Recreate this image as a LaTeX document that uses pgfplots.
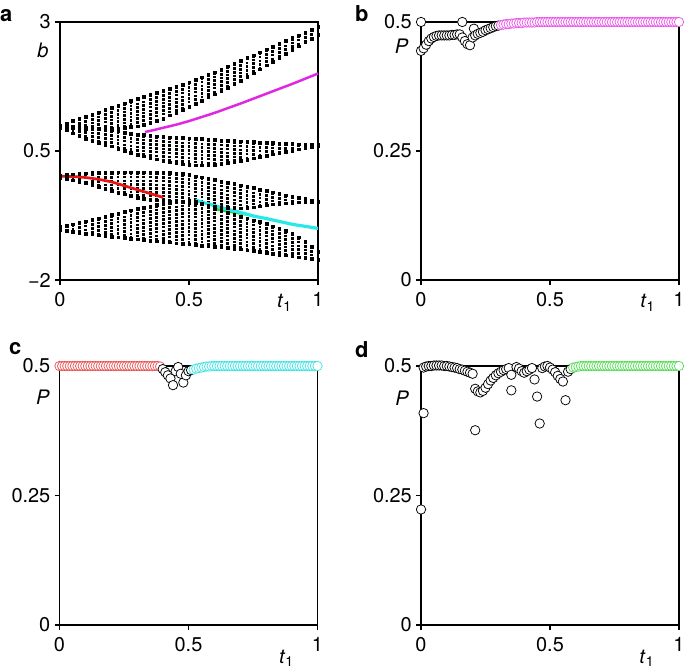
\documentclass[border=0pt]{standalone}
\usepackage{fontspec}
\setmainfont{TeX Gyre Heros}
\usepackage{pgfplots}
\usepackage{pgfplotstable}
\pgfplotsset{compat=1.18}
\definecolor{cmag}{RGB}{225,40,225}
\definecolor{cred}{RGB}{235,20,20}
\definecolor{ccyan}{RGB}{40,232,232}
\definecolor{cgreen}{RGB}{50,210,50}
\definecolor{cmagc}{RGB}{235,90,235}
\definecolor{credc}{RGB}{232,90,90}
\definecolor{ccyanc}{RGB}{70,228,228}
\definecolor{cgreenc}{RGB}{90,222,90}

% band edges (top and bottom of each group of states)
\pgfplotstableread{
t Atop Abot Btop Bbot Ctop Cbot Dtop Dbot
0.000 1.000 0.950 1.000 0.950 0.020 -0.020 -0.970 -1.020
0.025 1.040 0.945 0.990 0.900 0.035 -0.040 -0.945 -1.040
0.050 1.085 0.940 0.980 0.845 0.050 -0.065 -0.915 -1.060
0.075 1.130 0.935 0.970 0.790 0.060 -0.090 -0.890 -1.080
0.100 1.170 0.930 0.960 0.740 0.070 -0.120 -0.860 -1.100
0.125 1.210 0.930 0.945 0.700 0.075 -0.155 -0.830 -1.115
0.150 1.255 0.930 0.930 0.665 0.080 -0.195 -0.800 -1.130
0.175 1.300 0.930 0.915 0.625 0.085 -0.230 -0.770 -1.145
0.200 1.340 0.930 0.900 0.590 0.085 -0.270 -0.740 -1.160
0.225 1.380 0.940 0.880 0.550 0.090 -0.305 -0.710 -1.170
0.250 1.425 0.955 0.860 0.510 0.090 -0.340 -0.680 -1.185
0.275 1.470 0.965 0.840 0.470 0.090 -0.370 -0.650 -1.200
0.300 1.510 0.980 0.820 0.430 0.090 -0.400 -0.620 -1.210
0.325 1.550 1.015 0.810 0.400 0.090 -0.420 -0.595 -1.220
0.350 1.590 1.050 0.800 0.370 0.090 -0.440 -0.570 -1.235
0.375 1.630 1.090 0.790 0.340 0.085 -0.455 -0.545 -1.250
0.400 1.670 1.130 0.780 0.310 0.085 -0.470 -0.520 -1.260
0.425 1.710 1.190 0.770 0.285 0.075 -0.480 -0.500 -1.270
0.450 1.750 1.245 0.765 0.260 0.065 -0.490 -0.485 -1.285
0.475 1.790 1.300 0.755 0.245 0.055 -0.495 -0.470 -1.300
0.500 1.830 1.360 0.750 0.230 0.040 -0.500 -0.460 -1.310
0.525 1.880 1.420 0.740 0.225 0.015 -0.500 -0.470 -1.320
0.550 1.930 1.480 0.735 0.225 -0.010 -0.520 -0.520 -1.330
0.575 1.980 1.540 0.725 0.230 -0.035 -0.550 -0.570 -1.340
0.600 2.030 1.600 0.720 0.240 -0.060 -0.570 -0.620 -1.350
0.625 2.085 1.665 0.710 0.255 -0.085 -0.590 -0.660 -1.360
0.650 2.140 1.730 0.705 0.270 -0.110 -0.600 -0.695 -1.375
0.675 2.195 1.795 0.695 0.290 -0.135 -0.610 -0.735 -1.390
0.700 2.250 1.860 0.690 0.310 -0.160 -0.610 -0.770 -1.400
0.725 2.305 1.935 0.680 0.335 -0.190 -0.600 -0.805 -1.420
0.750 2.360 2.010 0.675 0.360 -0.215 -0.590 -0.840 -1.435
0.775 2.415 2.085 0.665 0.385 -0.245 -0.570 -0.875 -1.450
0.800 2.470 2.160 0.660 0.410 -0.270 -0.550 -0.910 -1.470
0.825 2.525 2.235 0.655 0.435 -0.300 -0.535 -0.955 -1.490
0.850 2.580 2.310 0.650 0.460 -0.325 -0.520 -1.005 -1.505
0.875 2.635 2.385 0.645 0.485 -0.355 -0.510 -1.050 -1.520
0.900 2.690 2.460 0.640 0.510 -0.380 -0.500 -1.100 -1.540
0.925 2.745 2.530 0.635 0.535 -0.405 -0.495 -1.170 -1.560
0.950 2.800 2.605 0.630 0.560 -0.430 -0.490 -1.250 -1.575
0.975 2.855 2.680 0.625 0.580 -0.455 -0.485 -1.350 -1.590
1.000 2.910 2.750 0.620 0.600 -0.480 -0.480 -1.450 -1.610
}\bands

\tikzset{lab/.style={font=\fontsize{20}{24}\selectfont}}
\pgfplotsset{
  panel/.style={
    scale only axis, width=258bp, height=258bp,
    axis line style={line width=1.1bp, black},
    every tick/.style={line width=1.1bp, black},
    major tick length=5bp,
    tick align=outside,
    tick pos=left,
    xmin=0, xmax=1,
    xtick={0,0.5,1}, xticklabels={0,0.5,1},
    every tick label/.append style={font=\fontsize{20}{24}\selectfont},
    xticklabel style={anchor=north, inner sep=0pt, yshift=-7bp},
    yticklabel style={anchor=east, inner sep=0pt, xshift=-4bp},
    clip=false,
  },
  streak/.style={draw=none, mark=none, forget plot,
    error bars/.cd, y dir=minus, y explicit, error mark=none,
    error bar style={draw=black, solid, line width=2.8bp, dash pattern=on 2.6bp off 1.1bp}},
  edge/.style={only marks, mark=square*, mark size=1.3bp, black, forget plot},
  circ/.style={only marks, mark=*, mark size=4.7bp, mark options={fill=white, draw=#1, line width=0.75bp}},
}

\begin{document}
\begin{tikzpicture}[x=1bp,y=1bp]
\useasboundingbox (0,0) rectangle (685,671);

% ---------------- panel a ----------------
\begin{axis}[panel, at={(60bp,391bp)}, anchor=south west,
  ymin=-2, ymax=3, ytick={-2,0.5,3}, yticklabels={−2,0.5,3}]
\addplot[streak] table[x=t, y=Atop, y error expr=\thisrow{Atop}-\thisrow{Abot}] {\bands};
\addplot[streak] table[x=t, y=Btop, y error expr=\thisrow{Btop}-\thisrow{Bbot}] {\bands};
\addplot[streak] table[x=t, y=Ctop, y error expr=\thisrow{Ctop}-\thisrow{Cbot}] {\bands};
\addplot[streak] table[x=t, y=Dtop, y error expr=\thisrow{Dtop}-\thisrow{Dbot}] {\bands};
\addplot[edge] table[x=t, y=Atop] {\bands};
\addplot[edge] table[x=t, y=Abot] {\bands};
\addplot[edge] table[x=t, y=Btop] {\bands};
\addplot[edge] table[x=t, y=Bbot] {\bands};
\addplot[edge] table[x=t, y=Ctop] {\bands};
\addplot[edge] table[x=t, y=Cbot] {\bands};
\addplot[edge] table[x=t, y=Dtop] {\bands};
\addplot[edge] table[x=t, y=Dbot] {\bands};
% edge states
\addplot[cmag, line width=2.5bp, smooth] coordinates {(0.33,0.87) (0.35,0.89) (0.4,0.95) (0.45,1.01) (0.5,1.08) (0.55,1.16) (0.6,1.24) (0.65,1.33) (0.7,1.42) (0.75,1.515) (0.8,1.61) (0.85,1.705) (0.9,1.80) (0.95,1.90) (1.0,2.0)};
\addplot[cred, line width=2.7bp, smooth] coordinates {(0,0.01) (0.05,0.005) (0.1,-0.015) (0.15,-0.05) (0.2,-0.10) (0.25,-0.175) (0.3,-0.25) (0.35,-0.325) (0.4,-0.40)};
\addplot[cgreen, line width=2.6bp, smooth] coordinates {(0.6,-0.62) (0.65,-0.67) (0.7,-0.71) (0.75,-0.755)};
\addplot[ccyan, line width=3.2bp, smooth] coordinates {(0.525,-0.45) (0.55,-0.49) (0.6,-0.56) (0.65,-0.63) (0.7,-0.69) (0.75,-0.76) (0.8,-0.81) (0.85,-0.865) (0.9,-0.92) (0.95,-0.96) (1.0,-1.0)};
\node[lab, font=\fontsize{20}{24}\selectfont\itshape] at (axis description cs:-0.066,0.891) {b};
\node[lab, anchor=base west, inner sep=0pt] at (axis description cs:0.841,-0.1085) {\textit{t}\textsubscript{1}};
\end{axis}

% ---------------- panel b ----------------
\begin{axis}[panel, at={(421bp,391bp)}, anchor=south west,
  ymin=0, ymax=0.5, ytick={0,0.25,0.5}, yticklabels={0,0.25,0.5}]
\addplot[circ=black] coordinates {(0,0.5) (0.16,0.5)
 (0.00,0.444) (0.01,0.449) (0.02,0.456) (0.03,0.463) (0.04,0.468) (0.05,0.471) (0.06,0.473) (0.07,0.474) (0.08,0.474) (0.09,0.474) (0.10,0.474) (0.11,0.474) (0.12,0.475) (0.13,0.475) (0.14,0.476) (0.15,0.476) (0.16,0.470) (0.17,0.463) (0.18,0.457) (0.19,0.455)
 (0.205,0.487) (0.20,0.470) (0.21,0.474) (0.22,0.477) (0.23,0.479) (0.24,0.481) (0.25,0.484) (0.26,0.486) (0.27,0.488) (0.28,0.490) (0.29,0.492) (0.30,0.493)};
\addplot[circ=cmagc] coordinates {(0.31,0.494) (0.32,0.495) (0.33,0.496) (0.34,0.496) (0.35,0.497) (0.36,0.497) (0.37,0.498) (0.38,0.498) (0.39,0.498) (0.40,0.499) (0.41,0.499) (0.42,0.499) (0.43,0.499) (0.44,0.499)
 (0.45,0.5) (0.46,0.5) (0.47,0.5) (0.48,0.5) (0.49,0.5) (0.50,0.5) (0.51,0.5) (0.52,0.5) (0.53,0.5) (0.54,0.5) (0.55,0.5) (0.56,0.5) (0.57,0.5) (0.58,0.5) (0.59,0.5)
 (0.60,0.5) (0.61,0.5) (0.62,0.5) (0.63,0.5) (0.64,0.5) (0.65,0.5) (0.66,0.5) (0.67,0.5) (0.68,0.5) (0.69,0.5) (0.70,0.5) (0.71,0.5) (0.72,0.5) (0.73,0.5) (0.74,0.5)
 (0.75,0.5) (0.76,0.5) (0.77,0.5) (0.78,0.5) (0.79,0.5) (0.80,0.5) (0.81,0.5) (0.82,0.5) (0.83,0.5) (0.84,0.5) (0.85,0.5) (0.86,0.5) (0.87,0.5) (0.88,0.5) (0.89,0.5)
 (0.90,0.5) (0.91,0.5) (0.92,0.5) (0.93,0.5) (0.94,0.5) (0.95,0.5) (0.96,0.5) (0.97,0.5) (0.98,0.5) (0.99,0.5) (1.00,0.5)};
\node[lab, font=\fontsize{20}{24}\selectfont\itshape] at (axis description cs:-0.076,0.907) {P};
\node[lab, anchor=base west, inner sep=0pt] at (axis description cs:0.849,-0.1085) {\textit{t}\textsubscript{1}};
\end{axis}

% ---------------- panel c ----------------
\begin{axis}[panel, at={(59.5bp,46bp)}, anchor=south west, height=259bp,
  ymin=0, ymax=0.5, ytick={0,0.25,0.5}, yticklabels={0,0.25,0.5}]
\addplot[circ=credc] coordinates {(0.00,0.5) (0.01,0.5) (0.02,0.5) (0.03,0.5) (0.04,0.5) (0.05,0.5) (0.06,0.5) (0.07,0.5) (0.08,0.5) (0.09,0.5)
 (0.10,0.5) (0.11,0.5) (0.12,0.5) (0.13,0.5) (0.14,0.5) (0.15,0.5) (0.16,0.5) (0.17,0.5) (0.18,0.5) (0.19,0.5)
 (0.20,0.5) (0.21,0.5) (0.22,0.5) (0.23,0.5) (0.24,0.5) (0.25,0.5) (0.26,0.5) (0.27,0.5) (0.28,0.5) (0.29,0.5)
 (0.30,0.5) (0.31,0.5) (0.32,0.5) (0.33,0.5) (0.34,0.5) (0.35,0.5) (0.36,0.5) (0.37,0.5) (0.38,0.5) (0.39,0.499)};
\addplot[circ=black] coordinates {(0.40,0.494) (0.41,0.488) (0.42,0.482) (0.43,0.476) (0.44,0.463) (0.45,0.490) (0.46,0.498) (0.47,0.485) (0.48,0.468) (0.49,0.482) (0.50,0.490) (0.51,0.492)};
\addplot[circ=ccyanc] coordinates {(0.52,0.493) (0.53,0.495) (0.54,0.496) (0.55,0.497) (0.56,0.498) (0.57,0.499) (0.58,0.499) (0.59,0.5)
 (0.60,0.5) (0.61,0.5) (0.62,0.5) (0.63,0.5) (0.64,0.5) (0.65,0.5) (0.66,0.5) (0.67,0.5) (0.68,0.5) (0.69,0.5) (0.70,0.5) (0.71,0.5) (0.72,0.5) (0.73,0.5) (0.74,0.5)
 (0.75,0.5) (0.76,0.5) (0.77,0.5) (0.78,0.5) (0.79,0.5) (0.80,0.5) (0.81,0.5) (0.82,0.5) (0.83,0.5) (0.84,0.5) (0.85,0.5) (0.86,0.5) (0.87,0.5) (0.88,0.5) (0.89,0.5)
 (0.90,0.5) (0.91,0.5) (0.92,0.5) (0.93,0.5) (0.94,0.5) (0.95,0.5) (0.96,0.5) (0.97,0.5) (0.98,0.5) (0.99,0.5) (1.00,0.5)};
\node[lab, font=\fontsize{20}{24}\selectfont\itshape] at (axis description cs:-0.065,0.88) {P};
\node[lab, anchor=base west, inner sep=0pt] at (axis description cs:0.85,-0.147) {\textit{t}\textsubscript{1}};
\end{axis}

% ---------------- panel d ----------------
\begin{axis}[panel, at={(421bp,46bp)}, anchor=south west, height=259bp,
  ymin=0, ymax=0.5, ytick={0,0.25,0.5}, yticklabels={0,0.25,0.5}]
\addplot[circ=black] coordinates {(0.00,0.223) (0.01,0.409)
 (0.01,0.497) (0.02,0.499) (0.03,0.500) (0.04,0.500) (0.05,0.501) (0.06,0.501) (0.07,0.501) (0.08,0.501) (0.09,0.500) (0.10,0.500) (0.11,0.499) (0.12,0.498) (0.13,0.497) (0.14,0.496) (0.15,0.494) (0.16,0.493) (0.17,0.491) (0.18,0.489) (0.19,0.487) (0.20,0.485)
 (0.21,0.376)
 (0.21,0.456) (0.22,0.451) (0.23,0.449) (0.24,0.452) (0.25,0.458) (0.26,0.465) (0.27,0.472) (0.28,0.477) (0.29,0.482) (0.30,0.486) (0.31,0.489) (0.32,0.492) (0.33,0.494) (0.34,0.496)
 (0.35,0.483) (0.35,0.453) (0.37,0.498) (0.38,0.495) (0.39,0.490) (0.40,0.487) (0.41,0.490) (0.42,0.493) (0.43,0.496) (0.44,0.474) (0.45,0.441) (0.46,0.389) (0.47,0.496) (0.48,0.499) (0.49,0.500) (0.50,0.497) (0.51,0.493) (0.52,0.488) (0.53,0.481) (0.54,0.475) (0.55,0.470) (0.56,0.434) (0.57,0.489) (0.58,0.494)};
\addplot[circ=cgreenc] coordinates {(0.59,0.497) (0.60,0.498) (0.61,0.499) (0.62,0.5) (0.63,0.5) (0.64,0.5) (0.65,0.5) (0.66,0.5) (0.67,0.5) (0.68,0.5) (0.69,0.5) (0.70,0.5) (0.71,0.5) (0.72,0.5) (0.73,0.5) (0.74,0.5)
 (0.75,0.5) (0.76,0.5) (0.77,0.5) (0.78,0.5) (0.79,0.5) (0.80,0.5) (0.81,0.5) (0.82,0.5) (0.83,0.5) (0.84,0.5) (0.85,0.5) (0.86,0.5) (0.87,0.5) (0.88,0.5) (0.89,0.5)
 (0.90,0.5) (0.91,0.5) (0.92,0.5) (0.93,0.5) (0.94,0.5) (0.95,0.5) (0.96,0.5) (0.97,0.5) (0.98,0.5) (0.99,0.5) (1.00,0.5)};
\node[lab, font=\fontsize{20}{24}\selectfont\itshape] at (axis description cs:-0.074,0.876) {P};
\node[lab, anchor=base west, inner sep=0pt] at (axis description cs:0.846,-0.147) {\textit{t}\textsubscript{1}};
\end{axis}

% panel letters
\node[anchor=base west, inner sep=0pt, font=\fontsize{22}{26}\selectfont\bfseries] at (0,649) {a};
\node[anchor=base west, inner sep=0pt, font=\fontsize{22}{26}\selectfont\bfseries] at (355,649) {b};
\node[anchor=base west, inner sep=0pt, font=\fontsize{22}{26}\selectfont\bfseries] at (9,316) {c};
\node[anchor=base west, inner sep=0pt, font=\fontsize{22}{26}\selectfont\bfseries] at (355,313) {d};
\end{tikzpicture}
\end{document}
